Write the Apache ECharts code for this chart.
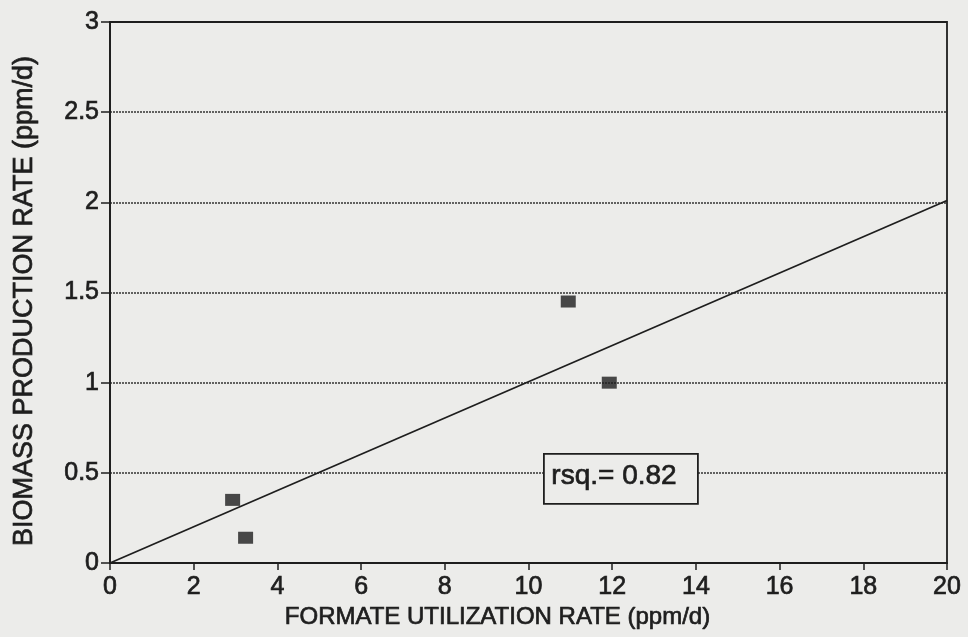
<!DOCTYPE html>
<html>
<head>
<meta charset="utf-8">
<script src="https://cdn.jsdelivr.net/npm/echarts@6/dist/echarts.min.js"></script>
<style>
html,body{margin:0;padding:0;background:#ececea;}
#chart{width:968px;height:637px;}
</style>
</head>
<body>
<div id="chart"></div>
<script>
// Observed data points (formate utilization rate, biomass production rate)
const pointsX = [2.93, 3.24, 10.95, 11.93];
const pointsY = [0.35, 0.14, 1.45, 1.00];
// Regression line endpoints
const fitX = [0, 20];
const fitY = [0, 2.01];
const xTicks = [0, 2, 4, 6, 8, 10, 12, 14, 16, 18, 20];
const yTicks = [0, 0.5, 1, 1.5, 2, 2.5, 3];
const xTitle = 'FORMATE UTILIZATION RATE (ppm/d)';
const yTitle = 'BIOMASS PRODUCTION RATE (ppm/d)';
const rsqText = 'rsq.= 0.82';

const ink = '#1e1e1e';
const font = 'Liberation Sans';
const thick = {textBorderColor: ink, textBorderWidth: 0.7};

const chart = echarts.init(document.getElementById('chart'), null, {renderer: 'canvas'});
const option = {
  backgroundColor: '#ececea',
  animation: false,
  grid: {left: 110, right: 21, top: 22, bottom: 74, show: true, borderColor: ink, borderWidth: 1.8, backgroundColor: 'transparent'},
  xAxis: {
    type: 'value', min: xTicks[0], max: xTicks[xTicks.length - 1], interval: 2,
    name: xTitle, nameLocation: 'middle', nameGap: 37,
    nameTextStyle: Object.assign({fontFamily: font, fontSize: 24, color: ink, padding: [0, 62, 0, 0]}, thick),
    axisLine: {lineStyle: {color: ink, width: 1.8}},
    axisTick: {show: true, length: 7, lineStyle: {color: ink, width: 1.5}},
    axisLabel: Object.assign({fontFamily: font, fontSize: 25, color: ink, margin: 12,
      formatter: v => xTicks.includes(v) ? String(v) : ''}, thick),
    splitLine: {show: false}
  },
  yAxis: {
    type: 'value', min: yTicks[0], max: yTicks[yTicks.length - 1], interval: 0.5,
    axisLine: {lineStyle: {color: ink, width: 1.8}},
    axisTick: {show: true, length: 9, lineStyle: {color: ink, width: 1.5}},
    axisLabel: Object.assign({fontFamily: font, fontSize: 25, color: ink, margin: 11,
      formatter: v => yTicks.includes(v) ? String(v) : ''}, thick),
    splitLine: {show: true, showMinLine: false, showMaxLine: false,
      lineStyle: {color: '#333', width: 1.5, type: [2, 1]}}
  },
  series: [
    {
      type: 'line',
      data: fitX.map((x, i) => [x, fitY[i]]),
      symbol: 'none',
      lineStyle: {color: ink, width: 1.8},
      z: 3
    },
    {
      type: 'scatter',
      data: pointsX.map((x, i) => [x, pointsY[i]]),
      symbol: 'rect',
      symbolSize: [15, 12],
      itemStyle: {color: ink},
      z: 4
    }
  ],
  graphic: [
    {
      type: 'text', x: 25, y: 301, rotation: Math.PI / 2, z: 10,
      style: {text: yTitle, font: '27px "Liberation Sans"', fill: ink, stroke: ink, lineWidth: 0.7,
        align: 'center', verticalAlign: 'middle'}
    },
    {
      type: 'rect', left: 543, top: 453, z: 10,
      shape: {width: 154, height: 50},
      style: {fill: '#ececea', stroke: ink, lineWidth: 1.8}
    },
    {
      type: 'text', left: 551, top: 462, z: 11,
      style: {text: rsqText, font: '28px "Liberation Sans"', fill: ink, stroke: ink, lineWidth: 0.7}
    }
  ]
};
chart.setOption(option);
</script>
</body>
</html>
